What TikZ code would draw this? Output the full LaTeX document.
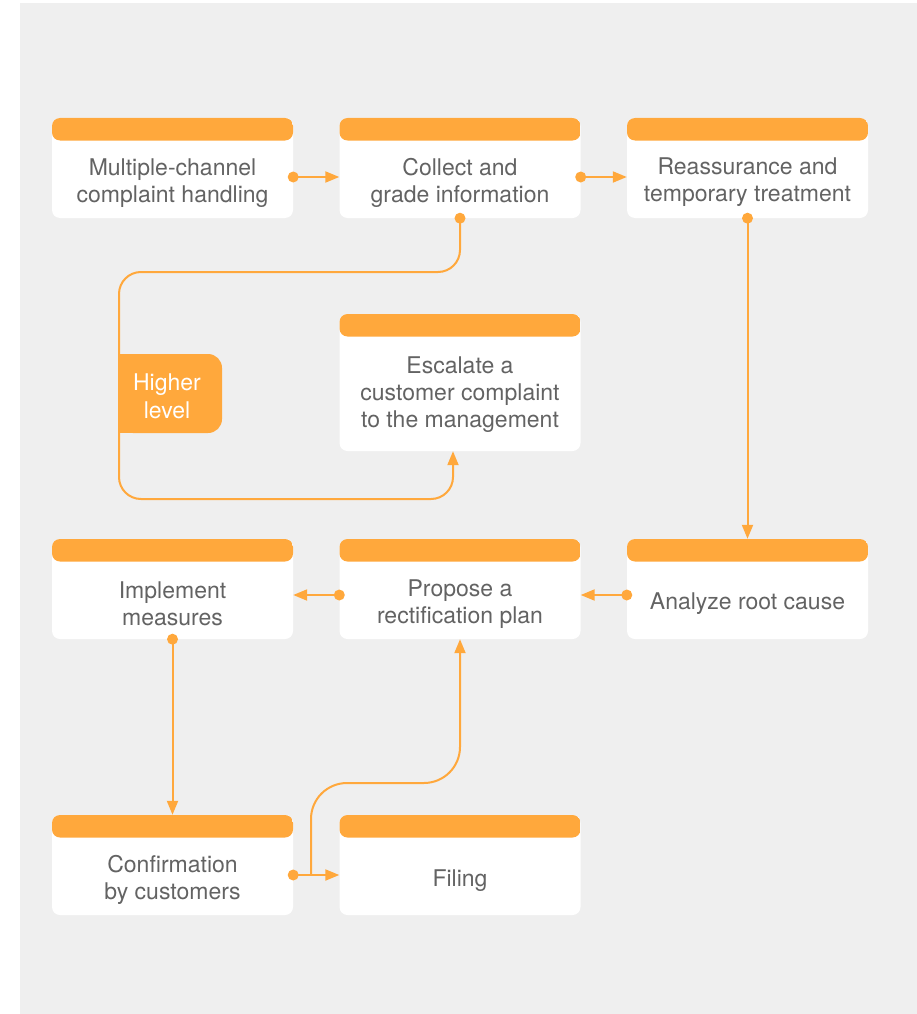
\documentclass[tikz,border=0pt]{standalone}
\usepackage{fontspec}
\setmainfont{TeX Gyre Heros}
\usetikzlibrary{arrows.meta}
\definecolor{accent}{HTML}{FFA83C}
\definecolor{bgc}{HTML}{EFEFEF}
\definecolor{txtc}{HTML}{636363}
\begin{document}
\begin{tikzpicture}[x=1pt,y=-1pt,
  card/.style={minimum width=241pt, minimum height=100pt, inner sep=0pt, fill=white, rounded corners=8pt,
    path picture={\fill[accent] (path picture bounding box.north west) rectangle ([yshift=-22.5pt]path picture bounding box.north east);}},
  txt/.style={text=txtc, font=\fontsize{23}{27}\selectfont, align=center, inner sep=0pt},
  tagbox/.style={minimum width=103pt, minimum height=79pt, inner sep=0pt, fill=accent, rounded corners=14pt,
    text=white, font=\fontsize{23}{28}\selectfont, align=center},
  conn/.style={draw=accent, line width=2pt, -{Triangle[length=14pt,width=11pt]}},
  dotc/.style={fill=accent}
]
\useasboundingbox (0,0) rectangle (917,1014);
\fill[bgc] (20,3) rectangle (917,1014);

% cards
\node[card] (mc) at (172.5,168) {};
\node[card] (co) at (460,168) {};
\node[card] (re) at (747.5,168) {};
\node[card, minimum height=137pt] (es) at (460,382.5) {};
\node[card] (im) at (172.5,589) {};
\node[card] (pr) at (460,589) {};
\node[card] (an) at (747.5,589) {};
\node[card] (cf) at (172.5,865) {};
\node[card] (fi) at (460,865) {};

% texts
\node[txt] (mc-t) at ([yshift=-15pt]mc.center) {Multiple-channel\\complaint handling};
\node[txt] (co-t) at ([yshift=-15pt]co.center) {Collect and\\grade information};
\node[txt] (re-t) at ([yshift=-14pt]re.center) {Reassurance and\\temporary treatment};
\node[txt] (es-t) at ([yshift=-12.5pt]es.center) {Escalate a\\customer complaint\\to the management};
\node[txt] (im-t) at ([yshift=-15pt]im.center) {Implement\\measures};
\node[txt] (pr-t) at ([yshift=-15pt]pr.center) {Propose a\\rectification plan};
\node[txt] (an-t) at ([yshift=-15pt]an.center) {Analyze root cause};
\node[txt] (cf-t) at ([yshift=-15pt]cf.center) {Confirmation\\by customers};
\node[txt] (fi-t) at ([yshift=-15.5pt]fi.center) {Filing};

% higher level tag
\fill[accent] (119,354) rectangle (150,433);
\node[tagbox] (hl) at (170.5,393.5) {};
\node[tagbox, fill=none, minimum width=0pt, minimum height=0pt] (hl-t) at (167,396) {Higher\\level};

% junction coordinates
\coordinate (j1) at (119,272);
\coordinate (j2) at (119,499);
\coordinate (j3) at (311,875);
\coordinate (j4) at (460,783);

% connectors
\draw[conn] ([yshift=-9pt]mc.east) -- ([yshift=-9pt]co.west);
\draw[conn] ([yshift=-9pt]co.east) -- ([yshift=-9pt]re.west);
\draw[conn, rounded corners=22pt] (co.south) |- (j1) -- (j2) -| ([xshift=-7pt]es.south);
\draw[conn] (re.south) -- (an.north);
\draw[conn] ([yshift=-6pt]an.west) -- ([yshift=-6pt]pr.east);
\draw[conn] ([yshift=-6pt]pr.west) -- ([yshift=-6pt]im.east);
\draw[conn] (im.south) -- (cf.north);
\draw[conn] ([yshift=-10pt]cf.east) -- ([yshift=-10pt]fi.west);
\draw[conn, rounded corners=36pt] (j3) |- (j4) -- (pr.south);

% dots
\fill[dotc] ([yshift=-9pt]mc.east) circle (5.5pt);
\fill[dotc] ([yshift=-9pt]co.east) circle (5.5pt);
\fill[dotc] (co.south) circle (5.5pt);
\fill[dotc] (re.south) circle (5.5pt);
\fill[dotc] ([yshift=-6pt]an.west) circle (5.5pt);
\fill[dotc] ([yshift=-6pt]pr.west) circle (5.5pt);
\fill[dotc] (im.south) circle (5.5pt);
\fill[dotc] ([yshift=-10pt]cf.east) circle (5.5pt);
\end{tikzpicture}
\end{document}
